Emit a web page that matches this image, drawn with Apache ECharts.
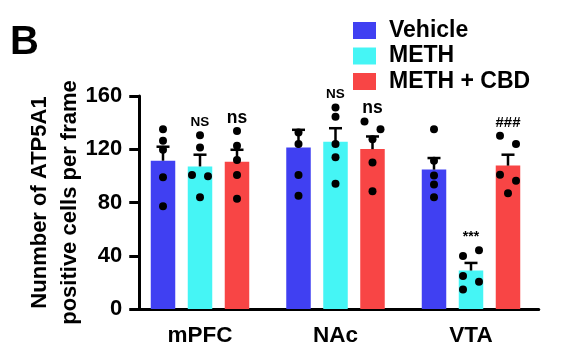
<!DOCTYPE html>
<html><head><meta charset="utf-8">
<script src="https://cdn.jsdelivr.net/npm/echarts@6/dist/echarts.min.js"></script>
<style>html,body{margin:0;padding:0;background:#fff}#c{width:561px;height:354px}</style>
</head><body><div id="c"></div>
<script>
const categories = ['mPFC', 'NAc', 'VTA'];
const seriesNames = ['Vehicle', 'METH', 'METH + CBD'];
const yTicks = [0, 40, 80, 120, 160];

const vehicleMean = [111.4, 121.3, 104.7];
const methMean = [107.1, 125.6, 28.9];
const cbdMean = [110.7, 120.1, 107.7];

const vehicleSem = [10.5, 13.3, 8.7];
const methSem = [8.8, 10.2, 5.7];
const cbdSem = [8.9, 9.5, 8.2];

const vehicleDots = [
  [135.1, 126.4, 119.6, 98.9, 77.2],
  [132.6, 123.9, 100.7, 85.0],
  [135.1, 111.4, 100.2, 93.5, 84.0]
];
const methDots = [
  [130.6, 121.4, 100.7, 99.7, 84.0],
  [151.3, 144.5, 123.9, 113.9, 94.0],
  [39.9, 44.1, 24.7, 20.4, 14.7]
];
const cbdDots = [
  [133.8, 122.6, 111.9, 100.7, 82.8],
  [140.8, 135.1, 127.6, 110.1, 88.4],
  [130.1, 123.9, 100.9, 96.4, 87.0]
];

const methMarks = ['NS', 'NS', '***'];
const cbdMarks = ['ns', 'ns', '###'];

// layout (not data): horizontal jitter slot of each dot (-1, 0, +1)
const vehicleSlots = [[0,0,0,0,0],[0,0,0,0],[0,0,0,0,0]];
const methSlots = [[0,0,-1,1,0],[0,0,0,0,0],[-1,1,-1,1,-1]];
const cbdSlots = [[0,0,0,0,0],[-1,1,0,0,0],[-1,1,-1,1,0]];

const colors = ['#4040f2', '#45f5f5', '#f84545'];
const BAR_W = 24.5, BAR_STEP = 37, JIT = 8;
const FONT = 'Arial, "Liberation Sans", sans-serif';
const markFont = {'NS': 13.5, 'ns': 17.5, '***': 14, '###': 15};

const means = [vehicleMean, methMean, cbdMean];
const sems = [vehicleSem, methSem, cbdSem];
const dots = [vehicleDots, methDots, cbdDots];
const slots = [vehicleSlots, methSlots, cbdSlots];
const marks = [null, methMarks, cbdMarks];

const chart = echarts.init(document.getElementById('c'), null, {renderer: 'canvas'});

const series = [];
seriesNames.forEach((name, s) => {
  series.push({
    name, type: 'bar', data: means[s], barWidth: BAR_W, barGap: '51%',
    itemStyle: {color: colors[s]}, z: 1
  });
});

// dots
const dotData = [];
dots.forEach((grp, s) => grp.forEach((arr, c) => arr.forEach((v, k) => dotData.push([c, v, s, slots[s][c][k]]))));
series.push({
  type: 'custom', z: 3, silent: true, data: dotData,
  renderItem(params, api) {
    const p = api.coord([api.value(0), api.value(1)]);
    const x = p[0] + (api.value(2) - 1) * BAR_STEP + api.value(3) * JIT;
    return {type: 'circle', shape: {cx: x, cy: p[1], r: 4}, style: {fill: '#000'}};
  }
});

// error bars
const errData = [];
means.forEach((m, s) => m.forEach((v, c) => errData.push([c, v, v + sems[s][c], s])));
series.push({
  type: 'custom', z: 4, silent: true, data: errData,
  renderItem(params, api) {
    const a = api.coord([api.value(0), api.value(1)]);
    const b = api.coord([api.value(0), api.value(2)]);
    const x = a[0] + (api.value(3) - 1) * BAR_STEP;
    return {type: 'group', children: [
      {type: 'line', shape: {x1: x, y1: a[1], x2: x, y2: b[1]}, style: {stroke: '#000', lineWidth: 2.5}},
      {type: 'line', shape: {x1: x - 6.5, y1: b[1], x2: x + 6.5, y2: b[1]}, style: {stroke: '#000', lineWidth: 2.5}}
    ]};
  }
});

// significance marks
const markData = [];
marks.forEach((mk, s) => { if (!mk) return; mk.forEach((t, c) => {
  const top = Math.max(...dots[s][c], means[s][c] + sems[s][c]);
  markData.push([c, top, s, t]);
}); });
series.push({
  type: 'custom', z: 5, silent: true, data: markData,
  renderItem(params, api) {
    const p = api.coord([api.value(0), api.value(1)]);
    const x = p[0] + (api.value(2) - 1) * BAR_STEP;
    const t = markData[params.dataIndex][3];
    return {type: 'text', style: {text: t, x: x, y: p[1] - 13, align: 'center', verticalAlign: 'middle',
      font: 'bold ' + markFont[t] + 'px ' + FONT, fill: '#000'}};
  }
});

chart.setOption({
  animation: false,
  backgroundColor: '#fff',
  grid: {left: 132.25, top: 96, width: 406.5, bottom: 45},
  legend: {
    data: seriesNames, orient: 'vertical', left: 353, top: 19, icon: 'rect', padding: 0,
    itemWidth: 23, itemHeight: 17, itemGap: 2.5,
    textStyle: {fontFamily: FONT, fontWeight: 'bold', fontSize: 23, lineHeight: 17, color: '#000', padding: [0, 0, 0, 8]}
  },
  graphic: [{type: 'text', left: 10, top: 23, style: {text: 'B', font: 'bold 40px ' + FONT, fill: '#000'}}],
  xAxis: {
    type: 'category', data: categories,
    axisLine: {lineStyle: {color: '#000', width: 3}},
    axisTick: {alignWithLabel: true, length: 9, lineStyle: {color: '#000', width: 3}},
    axisLabel: {fontFamily: FONT, fontWeight: 'bold', fontSize: 22.5, color: '#000', margin: 15}
  },
  yAxis: {
    type: 'value', min: 0, max: 160, interval: 40, offset: -7,
    name: 'Nunmber of ATP5A1\npositive cells per frame', nameLocation: 'middle', nameGap: 54, nameRotate: 90,
    nameMoveOverlap: false,
    nameTextStyle: {fontFamily: FONT, fontWeight: 'bold', fontSize: 22, color: '#000', lineHeight: 30},
    axisLine: {show: true, lineStyle: {color: '#000', width: 3}},
    axisTick: {show: true, length: 10, lineStyle: {color: '#000', width: 3}},
    splitLine: {show: false},
    axisLabel: {fontFamily: FONT, fontWeight: 'bold', fontSize: 22, color: '#000', margin: 17,
      formatter: v => yTicks.includes(v) ? String(v) : ''}
  },
  series
});
</script></body></html>
